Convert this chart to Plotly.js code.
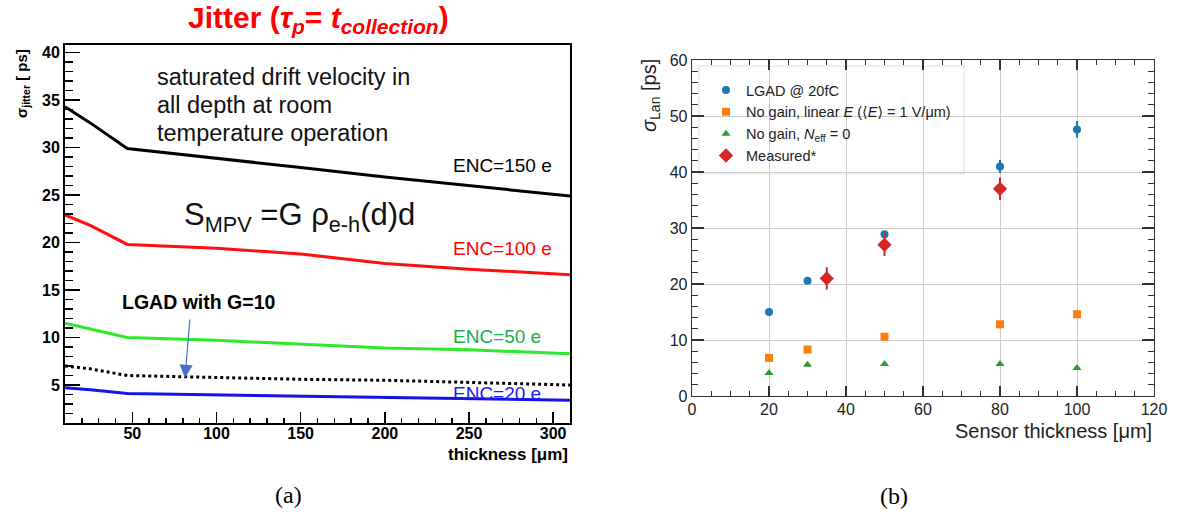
<!DOCTYPE html>
<html>
<head>
<meta charset="utf-8">
<script src="https://cdn.plot.ly/plotly-3.0.1.min.js"></script>
<style>html,body{margin:0;padding:0;background:#fff;}#chart{width:1181px;height:515px;}</style>
</head>
<body>
<div id="chart"></div>
<script>
// ---------- Panel (a) data: jitter vs thickness ----------
const thickness = [10, 25, 47, 100, 150, 200, 250, 300, 310];
const enc150 = [34.3, 32.6, 29.9, 28.9, 27.9, 26.9, 26.0, 25.1, 24.9];
const enc100 = [22.9, 21.8, 19.8, 19.4, 18.8, 17.8, 17.2, 16.7, 16.6];
const enc50  = [11.5, 10.9, 10.0, 9.7, 9.3, 8.9, 8.7, 8.4, 8.3];
const lgadG10 = [7.0, 6.7, 6.0, 5.8, 5.6, 5.5, 5.25, 5.07, 5.0];
const enc20  = [4.7, 4.5, 4.1, 3.95, 3.8, 3.65, 3.55, 3.4, 3.4];
const aXTicks = [50, 100, 150, 200, 250, 300];
const aYTicks = [5, 10, 15, 20, 25, 30, 35, 40];

// ---------- Panel (b) data: Landau term vs sensor thickness ----------
const sensorX = [20, 30, 50, 80, 100];
const lgad20fC = [15.0, 20.6, 28.9, 41.0, 47.6];
const lgad20fCErr = [0.4, 0.4, 0.6, 1.2, 1.5];
const noGainLinear = [6.8, 8.3, 10.6, 12.8, 14.6];
const noGainNeff0 = [4.1, 5.6, 5.7, 5.7, 5.0];
const measuredX = [35, 50, 80];
const measuredY = [21.0, 27.0, 37.0];
const measuredErr = [2.0, 2.0, 2.0];
const bXTicks = [0, 20, 40, 60, 80, 100, 120];
const bYTicks = [0, 10, 20, 30, 40, 50, 60];

const W = 1181, H = 515;
const px = v => v / W;
const py = v => 1 - v / H;

const sans = 'Liberation Sans, Arial, sans-serif';
const angL = '<span style="font-family:DejaVu Sans">⟨</span>';
const angR = '<span style="font-family:DejaVu Sans">⟩</span>';

const traces = [
  {x: thickness, y: enc150, xaxis: 'x', yaxis: 'y', mode: 'lines', line: {color: '#000000', width: 3}, showlegend: false, name: 'ENC=150 e'},
  {x: thickness, y: enc100, xaxis: 'x', yaxis: 'y', mode: 'lines', line: {color: '#ff1010', width: 3}, showlegend: false, name: 'ENC=100 e'},
  {x: thickness, y: enc50, xaxis: 'x', yaxis: 'y', mode: 'lines', line: {color: '#2ee82e', width: 3}, showlegend: false, name: 'ENC=50 e'},
  {x: thickness, y: lgadG10, xaxis: 'x', yaxis: 'y', mode: 'lines', line: {color: '#000000', width: 3, dash: 'dot'}, showlegend: false, name: 'LGAD with G=10'},
  {x: thickness, y: enc20, xaxis: 'x', yaxis: 'y', mode: 'lines', line: {color: '#1414e6', width: 3}, showlegend: false, name: 'ENC=20 e'},

  {x: sensorX, y: lgad20fC, xaxis: 'x2', yaxis: 'y2', mode: 'markers', name: 'LGAD @ 20fC',
   marker: {color: '#1f77b4', symbol: 'circle', size: 8},
   error_y: {type: 'data', array: lgad20fCErr, thickness: 2, width: 0, color: '#1f77b4'}},
  {x: sensorX, y: noGainLinear, xaxis: 'x2', yaxis: 'y2', mode: 'markers', name: 'No gain, linear <i>E</i> (' + angL + '<i>E</i>' + angR + ' = 1 V/μm)',
   marker: {color: '#ff7f0e', symbol: 'square', size: 8}},
  {x: sensorX, y: noGainNeff0, xaxis: 'x2', yaxis: 'y2', mode: 'markers', name: 'No gain, <i>N</i><sub>eff</sub> = 0',
   marker: {color: '#2ca02c', symbol: 'triangle-up', size: 8}},
  {x: measuredX, y: measuredY, xaxis: 'x2', yaxis: 'y2', mode: 'markers', name: 'Measured*',
   marker: {color: '#d62728', symbol: 'diamond', size: 11},
   error_y: {type: 'data', array: measuredErr, thickness: 2, width: 0, color: '#d62728'}}
];

const ann = (text, x, y, opts) => Object.assign({text: text, xref: 'paper', yref: 'paper', x: px(x), y: py(y), showarrow: false, xanchor: 'left', yanchor: 'middle'}, opts || {});

const annotations = [
  ann('<b>Jitter (<i>τ<sub>p</sub></i>= <i>t<sub>collection</sub></i>)</b>', 318, 20, {xanchor: 'center', font: {family: sans, size: 30, color: '#ff0000'}}),
  ann('saturated drift velocity in', 155, 77, {font: {family: sans, size: 23.5, color: '#111'}}),
  ann('all depth at room', 155, 105, {font: {family: sans, size: 23.5, color: '#111'}}),
  ann('temperature operation', 155, 133, {font: {family: sans, size: 23.5, color: '#111'}}),
  ann('S<sub>MPV</sub> =G ρ<sub>e-h</sub>(d)d', 182, 217, {font: {family: sans, size: 31, color: '#111'}}),
  ann('ENC=150 e', 451, 165, {font: {family: sans, size: 19, color: '#000'}}),
  ann('ENC=100 e', 451, 249, {font: {family: sans, size: 19, color: '#ff0000'}}),
  ann('ENC=50 e', 451, 336, {font: {family: sans, size: 19, color: '#18b048'}}),
  ann('ENC=20 e', 451, 393, {font: {family: sans, size: 19, color: '#1a1aff'}}),
  ann('<b>LGAD with G=10</b>', 120, 302, {font: {family: sans, size: 19.5, color: '#000'}}),
  {text: '', xref: 'paper', yref: 'paper', x: px(185), y: py(378), showarrow: true, axref: 'pixel', ayref: 'pixel', ax: 5, ay: -60,
   arrowhead: 2, arrowsize: 2.2, arrowwidth: 1.2, arrowcolor: '#4472c4'},
  ann('<b>thickness [μm]</b>', 570, 454, {xanchor: 'right', font: {family: sans, size: 17, color: '#000'}}),
  ann('<b>σ<sub>jitter</sub> [ ps]</b>', 22, 84, {xanchor: 'center', textangle: -90, font: {family: sans, size: 15, color: '#000'}}),
  ann('(a)', 288, 495, {xanchor: 'center', font: {family: 'Liberation Serif, Times New Roman, serif', size: 24, color: '#000'}}),

  ann('Sensor thickness [μm]', 1154, 431, {xanchor: 'right', font: {family: sans, size: 20, color: '#222'}}),
  ann('<i>σ</i><sub>Lan</sub> [ps]', 650, 96, {xanchor: 'center', textangle: -90, font: {family: sans, size: 20, color: '#222'}}),
  ann('(b)', 894, 496, {xanchor: 'center', font: {family: 'Liberation Serif, Times New Roman, serif', size: 24, color: '#000'}})
];

const layout = {
  width: W, height: H,
  margin: {l: 0, r: 0, t: 0, b: 0},
  paper_bgcolor: '#ffffff', plot_bgcolor: '#ffffff',
  showlegend: true,
  legend: {x: px(702), y: py(74), xanchor: 'left', yanchor: 'top', bgcolor: 'rgba(0,0,0,0)', borderwidth: 0,
           indentation: 4, font: {family: sans, size: 14.5, color: '#222'}},
  xaxis: {domain: [px(65), px(570)], anchor: 'y', range: [10, 310], tickvals: aXTicks,
          ticks: 'inside', ticklen: 11, tickwidth: 1.5, tickcolor: '#000', ticklabelstandoff: -5,
          minor: {dtick: 10, tick0: 0, ticks: 'inside', ticklen: 5.5, tickwidth: 1.5, tickcolor: '#000'},
          showline: true, linewidth: 2, linecolor: '#000', mirror: true, showgrid: false, zeroline: false,
          tickfont: {family: sans, size: 16, color: '#000', weight: 'bold'}},
  yaxis: {domain: [py(423), py(45)], anchor: 'x', range: [1, 40.8], tickvals: aYTicks,
          ticks: 'inside', ticklen: 15, tickwidth: 1.5, tickcolor: '#000',
          minor: {dtick: 1, tick0: 0, ticks: 'inside', ticklen: 8, tickwidth: 1.5, tickcolor: '#000'},
          showline: true, linewidth: 2, linecolor: '#000', mirror: true, showgrid: false, zeroline: false,
          tickfont: {family: sans, size: 16, color: '#000', weight: 'bold'}},
  xaxis2: {domain: [px(692), px(1154)], anchor: 'y2', range: [0, 120], tickvals: bXTicks,
           ticks: 'inside', ticklen: 10, tickwidth: 1.2, tickcolor: '#333', ticklabelstandoff: -2,
           minor: {dtick: 5, tick0: 0, ticks: 'inside', ticklen: 5, tickwidth: 1, tickcolor: '#333', showgrid: false},
           showline: true, linewidth: 1.3, linecolor: '#333', mirror: 'ticks',
           showgrid: true, gridcolor: '#cccccc', gridwidth: 1, zeroline: false,
           tickfont: {family: sans, size: 16, color: '#222'}},
  yaxis2: {domain: [py(396), py(60)], anchor: 'x2', range: [0, 60], tickvals: bYTicks,
           ticks: 'inside', ticklen: 12, tickwidth: 1.2, tickcolor: '#333',
           minor: {dtick: 2, tick0: 0, ticks: 'inside', ticklen: 6, tickwidth: 1, tickcolor: '#333', showgrid: false},
           showline: true, linewidth: 1.3, linecolor: '#333', mirror: 'ticks',
           showgrid: true, gridcolor: '#cccccc', gridwidth: 1, zeroline: false,
           tickfont: {family: sans, size: 16, color: '#222'}},
  shapes: [
    {type: 'rect', xref: 'paper', yref: 'paper', x0: px(699), x1: px(964), y0: py(174), y1: py(66),
     fillcolor: 'rgba(255,255,255,0.9)', line: {color: '#dddddd', width: 1}, layer: 'between'}
  ],
  annotations: annotations
};

Plotly.newPlot('chart', traces, layout, {displayModeBar: false, staticPlot: true});
</script>
</body>
</html>
